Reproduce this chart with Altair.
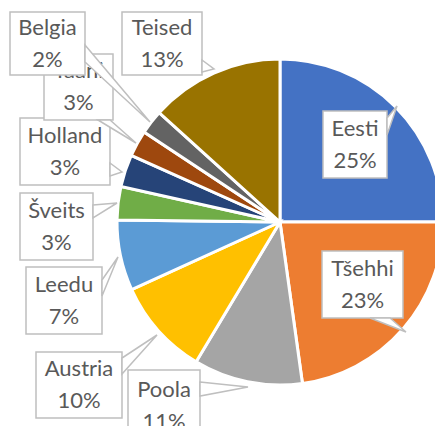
import altair as alt
import pandas as pd

# ---- data ----
countries = ["Eesti", "Tšehhi", "Poola", "Austria", "Leedu", "Šveits", "Holland", "Taani", "Belgia", "Teised"]
shares = [25.0, 22.8, 10.8, 9.6, 7.0, 3.3, 3.2, 2.6, 2.4, 13.3]
colors = ["#4472C4", "#ED7D31", "#A5A5A5", "#FFC000", "#5B9BD5", "#70AD47", "#264478", "#9E480E", "#636363", "#997300"]

# ---- label layout (page pixels) ----
OFF = 8
boxes = {
    "Eesti": (323, 387, 111, 178),
    "Tšehhi": (322, 403, 251, 318),
    "Poola": (128, 200, 370, 442),
    "Austria": (36, 122, 352, 418),
    "Leedu": (26, 102, 267, 334),
    "Šveits": (20, 93, 193, 260),
    "Holland": (20, 110, 118, 185),
    "Taani": (44, 113, 54, 120),
    "Belgia": (10, 85, 12, 75),
    "Teised": (122, 202, 12, 75),
}
pointers = {
    "Eesti": [(387, 118), (397, 106), (387, 135)],
    "Tšehhi": [(370, 318), (406, 332), (390, 318)],
    "Poola": [(200, 382), (248, 387), (200, 396)],
    "Austria": [(122, 358), (157, 335), (122, 374)],
    "Leedu": [(102, 280), (118, 257), (102, 296)],
    "Šveits": [(93, 205), (117, 203), (93, 218)],
    "Holland": [(110, 163), (122, 172), (110, 176)],
    "Taani": [(98, 120), (136, 143), (110, 120)],
    "Belgia": [(85, 45), (150, 122), (85, 62)],
    "Teised": [(202, 60), (214, 69), (202, 72)],
}

pie_df = pd.DataFrame({"country": countries, "value": shares, "idx": list(range(len(countries)))})

pie = alt.Chart(pie_df).mark_arc(outerRadius=163, stroke="white", strokeWidth=3).encode(
    theta=alt.Theta("value:Q", stack=True),
    color=alt.Color("country:N", scale=alt.Scale(domain=countries, range=colors), legend=None),
    order=alt.Order("idx:Q"),
    x=alt.value(280 - OFF),
    y=alt.value(222 - OFF),
)

layers = [pie]
draw_order = ["Eesti", "Tšehhi", "Poola", "Austria", "Leedu", "Šveits", "Holland", "Taani", "Belgia", "Teised"]
BORDER = "#BFBFBF"
LH = 32
for name in draw_order:
    i = countries.index(name)
    x0, x1, y0, y1 = boxes[name]
    label = f"{name}\n{round(shares[i])}%"
    bdf = pd.DataFrame({"x": [x0 - OFF], "x2": [x1 - OFF], "y": [y0 - OFF], "y2": [y1 - OFF]})
    box = alt.Chart(bdf).mark_rect(fill="white", stroke=BORDER, strokeWidth=1.5).encode(
        x=alt.X("x:Q", scale=None, axis=None), x2="x2:Q",
        y=alt.Y("y:Q", scale=None, axis=None), y2="y2:Q",
    )
    pts = pointers[name]
    pdf = pd.DataFrame({"x": [p[0] - OFF for p in pts], "y": [p[1] - OFF for p in pts], "o": list(range(len(pts)))})
    ptr = alt.Chart(pdf).mark_line(fill="white", stroke=BORDER, strokeWidth=1.5, interpolate="linear-closed").encode(
        x=alt.X("x:Q", scale=None, axis=None),
        y=alt.Y("y:Q", scale=None, axis=None),
        order="o:Q",
    )
    tdf = pd.DataFrame({"x": [(x0 + x1) / 2 - OFF], "y": [(y0 + y1) / 2 - OFF - LH / 2], "t": [label]})
    txt = alt.Chart(tdf).mark_text(
        font="Lato", fontSize=22, color="#595959", align="center", baseline="middle",
        lineBreak="\n", lineHeight=LH,
    ).encode(
        x=alt.X("x:Q", scale=None, axis=None),
        y=alt.Y("y:Q", scale=None, axis=None),
        text="t:N",
    )
    layers += [box, ptr, txt]

chart = alt.layer(*layers).properties(
    width=427, height=418, autosize="none", padding=0
).configure_view(stroke=None)

chart.save("out.html", embed_options={"renderer": "svg", "actions": False})
